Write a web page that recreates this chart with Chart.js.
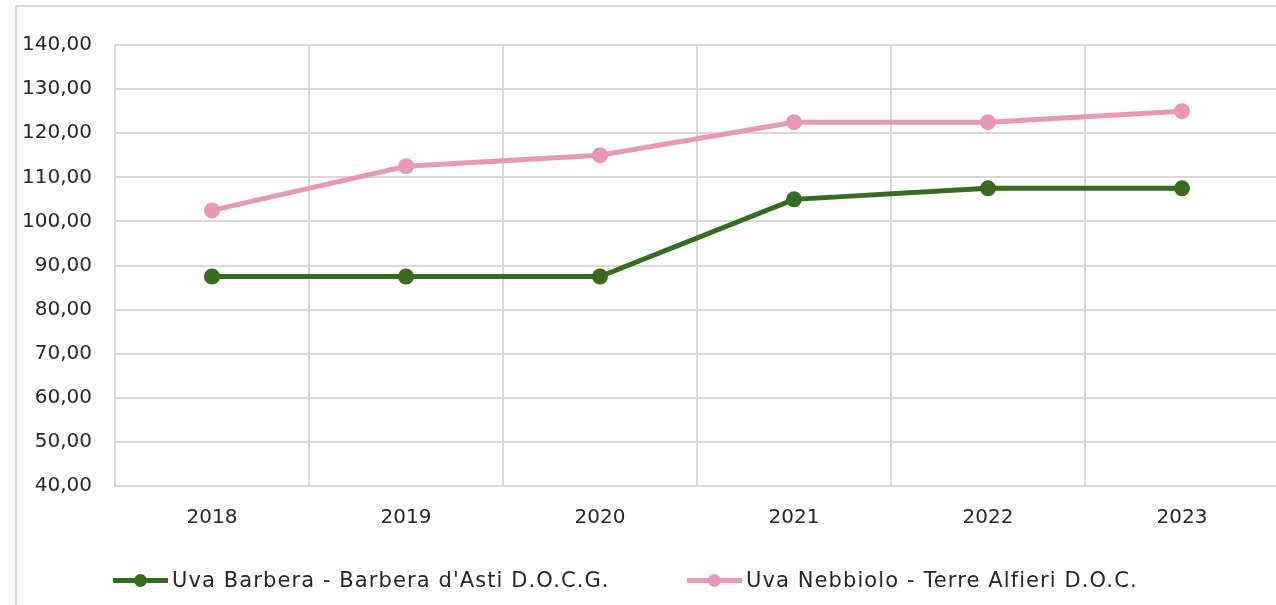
<!DOCTYPE html>
<html>
<head>
<meta charset="utf-8">
<script src="https://cdn.jsdelivr.net/npm/chart.js@4/dist/chart.umd.min.js"></script>
<style>
  html, body { margin: 0; padding: 0; background: #fff; }
  #wrap { position: relative; width: 1276px; height: 605px; overflow: hidden; }
  #frame { position: absolute; left: 15px; top: 5px; width: 1400px; height: 700px;
           border: 2px solid #d9d9d9; box-sizing: border-box; }
  #box { position: absolute; left: 0; top: 0; width: 1290px; height: 605px; }
  .leg { position: absolute; top: 566px; height: 28px; display: flex; align-items: center;
         font-family: "DejaVu Sans", sans-serif; font-size: 21px; letter-spacing: 1.1px;
         color: #262626; white-space: nowrap; }
  .leg .mk { position: relative; width: 55px; height: 5px; margin-right: 4px; }
  .leg .mk i { position: absolute; left: 21px; top: -4px; width: 13px; height: 13px; border-radius: 50%; }
</style>
</head>
<body>
<div id="wrap">
  <div id="frame"></div>
  <div id="box"><canvas id="priceChart"></canvas></div>
  <div id="legend"></div>
</div>
<script>
// dati
const years = ["2018", "2019", "2020", "2021", "2022", "2023"];
const barbera = [87.5, 87.5, 87.5, 105, 107.5, 107.5];
const nebbiolo = [102.5, 112.5, 115, 122.5, 122.5, 125];
const seriesNames = ["Uva Barbera - Barbera d'Asti D.O.C.G.", "Uva Nebbiolo - Terre Alfieri D.O.C."];
const seriesColors = ["#376b1f", "#e897b9"];
const legendLeft = [113, 687];

const gridColor = "#d9d9d9";
const textColor = "#262626";

const ctx = document.getElementById("priceChart").getContext("2d");
new Chart(ctx, {
  type: "line",
  data: {
    labels: years,
    datasets: [
      {
        label: seriesNames[0],
        data: barbera,
        borderColor: seriesColors[0],
        backgroundColor: seriesColors[0],
        pointBackgroundColor: seriesColors[0],
        borderWidth: 5,
        pointRadius: 8,
        pointBorderWidth: 0,
        tension: 0,
      },
      {
        label: seriesNames[1],
        data: nebbiolo,
        borderColor: seriesColors[1],
        backgroundColor: seriesColors[1],
        pointBackgroundColor: seriesColors[1],
        borderWidth: 5,
        pointRadius: 8,
        pointBorderWidth: 0,
        tension: 0,
      },
    ],
  },
  options: {
    responsive: true,
    maintainAspectRatio: false,
    animation: false,
    layout: { padding: { left: 0, right: 11, top: 45, bottom: 0 } },
    plugins: {
      legend: { display: false },
      tooltip: { enabled: false },
    },
    scales: {
      x: {
        offset: true,
        grid: { offset: true, color: gridColor, lineWidth: 2, drawTicks: false },
        border: { color: gridColor, width: 2 },
        ticks: {
          color: textColor,
          padding: 20,
          font: { family: "DejaVu Sans", size: 20 },
          maxRotation: 0,
        },
        afterFit: function (scale) {
          scale.height = 119;
        },
      },
      y: {
        min: 40,
        max: 140,
        grid: { color: gridColor, lineWidth: 2, drawTicks: false },
        border: { color: gridColor, width: 2 },
        ticks: {
          stepSize: 10,
          color: textColor,
          padding: 23,
          font: { family: "DejaVu Sans", size: 20 },
          callback: function (v) {
            return v.toFixed(2).replace(".", ",");
          },
        },
        afterFit: function (scale) {
          scale.width = 115;
        },
      },
    },
  },
});

// legenda in HTML
const legendEl = document.getElementById("legend");
seriesNames.forEach(function (name, i) {
  const item = document.createElement("div");
  item.className = "leg";
  item.style.left = legendLeft[i] + "px";
  const mk = document.createElement("span");
  mk.className = "mk";
  mk.style.background = seriesColors[i];
  const dot = document.createElement("i");
  dot.style.background = seriesColors[i];
  mk.appendChild(dot);
  const txt = document.createElement("span");
  txt.textContent = name;
  item.appendChild(mk);
  item.appendChild(txt);
  legendEl.appendChild(item);
});
</script>
</body>
</html>
